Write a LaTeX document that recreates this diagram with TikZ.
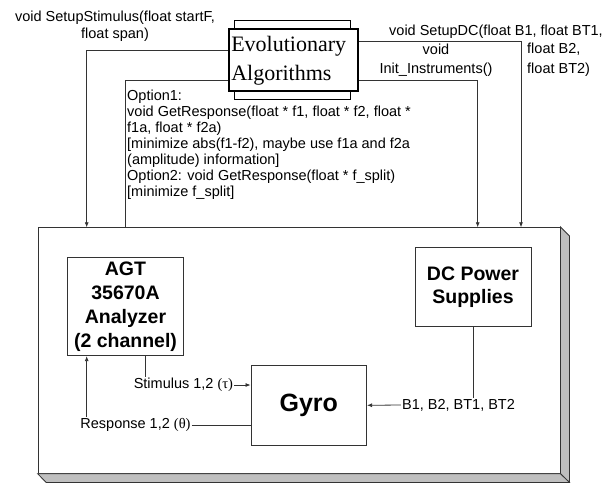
\documentclass[tikz,border=0pt]{standalone}
\usepackage{fontspec}
\setmainfont{Liberation Sans}
\newfontfamily\greekfont{Liberation Serif}
\usetikzlibrary{arrows.meta}
\tikzset{
  wire/.style={draw=black!80, line width=0.8pt},
  feed/.style={wire, -{Latex[length=5pt,width=4pt]}},
  unit/.style={draw=black!80, line width=0.8pt, fill=white, align=center, inner sep=0pt,
    font=\fontsize{19.5}{23.7}\selectfont\bfseries},
  call/.style={font=\fontsize{14.5}{17}\selectfont, align=center, inner sep=1pt},
  sideface/.style={draw=black!80, line width=0.8pt, fill=black!25},
}
\begin{document}
\begin{tikzpicture}[x=1pt, y=-1pt]
  \useasboundingbox (0,0) rectangle (612,482);
  % test bench with its side faces
  \node[draw=black!80, line width=0.8pt, fill=white, inner sep=0pt,
    minimum width=522pt, minimum height=246pt] (bench) at (299,350.3) {};
  \draw[sideface] (bench.north east) -- ++(9,9) -- ([shift={(9,8.7)}]bench.south east)
    -- (bench.south east) -- cycle;
  \draw[sideface] (bench.south west) -- ++(8.5,8.7) -- ([shift={(9,8.7)}]bench.south east)
    -- (bench.south east) -- cycle;
  \coordinate (stimdrop) at (86.7,227.3);
  \coordinate (optdrop) at (125.5,227.3);
  \coordinate (initdrop) at (477.7,227.3);
  \coordinate (dcdrop) at (521,227.3);

  % optimiser
  \node[draw, line width=0.8pt, fill=white, minimum width=116pt, minimum height=79.3pt]
    (evoback) at (292,59.7) {};
  \node[draw, line width=2pt, fill=white, minimum width=129pt, minimum height=62pt,
    text width=125pt, inner sep=2pt, align=left, font=\fontsize{22}{29}\selectfont\greekfont]
    (evo) at (293.8,60.3) {Evolutionary\\Algorithms};

  % calls
  \node[call] (stimcall) at (115,26.5) {void SetupStimulus(float startF,\\float span)};
  \node[call, font=\fontsize{14.5}{19}\selectfont] (initcall) at (436,60) {void\\Init\_Instruments()};
  \node[call] (dccall) at (496,32) {void SetupDC(float B1, float BT1,};
  \node[call, anchor=west, align=left, font=\fontsize{14.5}{20}\selectfont]
    (dccallb) at (526,60) {float B2,\\float BT2)};
  \node[call, anchor=north west, align=left, font=\fontsize{14.5}{15.9}\selectfont]
    (option) at (126,89) {Option1:\\void GetResponse(float * f1, float * f2, float *\\f1a, float * f2a)\\{[}minimize abs(f1-f2), maybe use f1a and f2a\\(amplitude) information{]}\\Option2: void GetResponse(float * f\_split)\\{[}minimize f\_split{]}};

  \draw[feed] ([yshift=10pt]evo.west) -| (stimdrop);
  \draw[wire] ([yshift=-20pt]evo.west) -| (optdrop);
  \draw[feed] ([yshift=-20pt]evo.east) -| (initdrop);
  \draw[feed] ([yshift=19.3pt]evo.east) -| (dcdrop);

  % instruments
  \node[unit, minimum width=115.6pt, minimum height=98pt] (agt) at (125.5,306.7)
    {AGT\\35670A\\Analyzer\\(2 channel)};
  \node[unit, minimum width=116pt, minimum height=79pt] (dc) at (473,287.2)
    {DC Power\\Supplies};
  \node[unit, minimum width=115.7pt, minimum height=79.3pt,
    font=\fontsize{25}{30}\selectfont\bfseries] (gyro) at (308.8,405.3) {Gyro};

  \node[call] (stim) at (183.4,385) {Stimulus 1,2 {\greekfont(τ)}};
  \node[call] (resp) at (135.5,425) {Response 1,2 {\greekfont(θ)}};
  \node[call] (bias) at (458.5,405) {B1, B2, BT1, BT2};

  \draw[wire] ([xshift=19.5pt]agt.south) -- ([xshift=19.5pt]agt.south |- stim.north);
  \draw[feed] (stim.east) -- (stim.east -| gyro.west);
  \draw[wire] (resp.east) -- (resp.east -| gyro.west);
  \draw[feed] ([xshift=-38.8pt]agt.south |- resp.north) -- ([xshift=-38.8pt]agt.south);
  \draw[wire] (dc.south) -- (dc.south |- bias.north);
  \draw[feed] (bias.west) -- (gyro.east);
\end{tikzpicture}
\end{document}
